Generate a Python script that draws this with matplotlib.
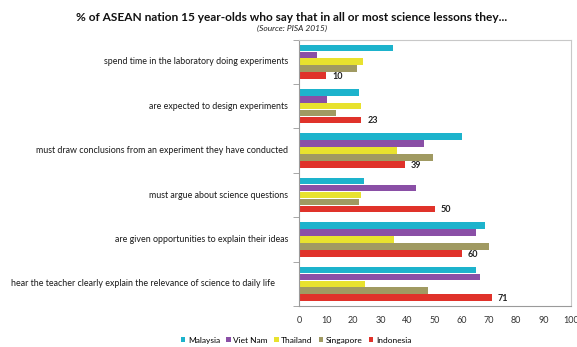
import matplotlib.pyplot as plt
import matplotlib.transforms as mtransforms
import numpy as np

plt.rcParams['font.family'] = ['Lato', 'DejaVu Sans']

categories = [
    "spend time in the laboratory doing experiments",
    "are expected to design experiments",
    "must draw conclusions from an experiment they have conducted",
    "must argue about science questions",
    "are given opportunities to explain their ideas",
    "hear the teacher clearly explain the relevance of science to daily life",
]
countries = ["Malaysia", "Viet Nam", "Thailand", "Singapore", "Indonesia"]
malaysia  = [34.5, 22, 60, 24, 68.5, 65]
viet_nam  = [6.5, 10.5, 46, 43, 65, 66.5]
thailand  = [23.5, 23, 36, 23, 35, 24.5]
singapore = [21.5, 13.5, 49.5, 22, 70, 47.5]
indonesia = [10, 23, 39, 50, 60, 71]
x_ticks = list(range(0, 101, 10))

series = [malaysia, viet_nam, thailand, singapore, indonesia]
colors = ["#1db3cc", "#8a4fa6", "#e8e22e", "#a09a62", "#e0322a"]

fig = plt.figure(figsize=(5.77, 3.47), dpi=100)
ax = fig.add_axes([0.518, 0.118, 0.471, 0.768])

y = np.arange(len(categories))
h = 0.156
for k, (vals, c, name) in enumerate(zip(series, colors, countries)):
    pos = y - 0.39 + h * (k + 0.5)
    ax.barh(pos, vals, height=h * 0.95, color=c, label=name, edgecolor="none")
    if name == "Indonesia":
        for p, v in zip(pos, vals):
            ax.text(v + 2.2, p + 0.02, "%d" % v, va="center", ha="left",
                    fontsize=6.5, fontweight="bold", color="#222222")

ax.set_xlim(0, 100)
ax.set_ylim(len(categories) - 0.5, -0.5)
ax.set_xticks(x_ticks)
ax.set_xticklabels([str(t) for t in x_ticks], fontsize=6.5, color="#333333")
ax.tick_params(axis="x", length=0, pad=7)
ax.set_yticks(y)
ax.set_yticklabels([])
ax.tick_params(axis="y", which="major", length=0)
ax.set_yticks(np.arange(-0.5, len(categories) + 0.5, 1), minor=True)
ax.tick_params(axis="y", which="minor", length=4, color="#999999", direction="out")

# category labels; the longest one sits a little further from the axis, as in the original
trans = mtransforms.blended_transform_factory(ax.transAxes, ax.transData)
for i, cat in enumerate(categories):
    gap = 24 if i == len(categories) - 1 else 11
    off = mtransforms.offset_copy(trans, fig=fig, x=-gap, y=0, units="dots")
    ax.text(0, i, cat, transform=off, ha="right", va="center",
            fontsize=6.4, color="#1a1a1a")

for s in ["top", "right"]:
    ax.spines[s].set_color("#c8c8c8")
for s in ["left", "bottom"]:
    ax.spines[s].set_color("#9a9a9a")
for s in ax.spines.values():
    s.set_linewidth(0.8)

fig.text(0.506, 0.95, "% of ASEAN nation 15 year-olds who say that in all or most science lessons they...",
         ha="center", va="center", fontsize=8.6, fontweight="bold", color="#111111")
fig.text(0.506, 0.918, "(Source: PISA 2015)", ha="center", va="center",
         fontsize=6, style="italic", color="#222222")

fig.legend(loc="center", bbox_to_anchor=(0.513, 0.019), ncol=5, frameon=False,
           fontsize=6, handlelength=0.55, handleheight=0.55, handletextpad=0.3,
           columnspacing=0.75)

fig.savefig("out.png", dpi=100)
